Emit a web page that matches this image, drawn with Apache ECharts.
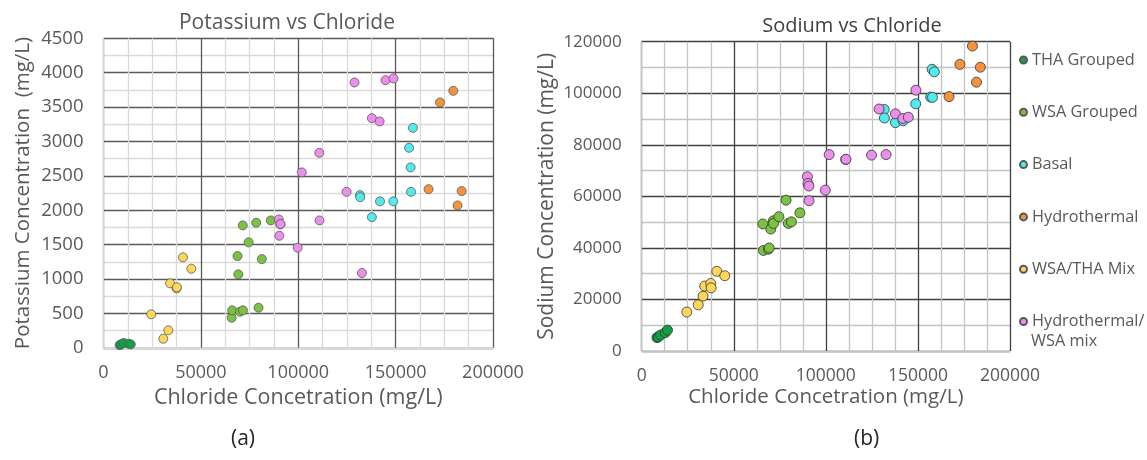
<!DOCTYPE html>
<html><head><meta charset="utf-8">
<script src="https://cdn.jsdelivr.net/npm/echarts@6/dist/echarts.min.js"></script>
<style>html,body{margin:0;padding:0;background:#fff}#c{width:1147px;height:460px}</style>
</head><body><div id="c"></div>
<script>
// ---- data (Cl, K, Na per sample) ----
const groups = ['THA Grouped','WSA Grouped','Basal','Hydrothermal','WSA/THA Mix','Hydrothermal/WSA mix'];
const thaCl = [8300, 9000, 10300, 12700, 14000];
const thaK  = [40, 50, 70, 60, 50];
const thaNa = [5200, 5500, 6200, 7100, 8100];
const wsaCl = [65800, 66100, 68800, 69200, 70100, 71500, 71600, 74500, 78400, 79600, 81300, 85900];
const wsaK  = [437, 545, 1334, 1068, 525, 1780, 545, 1533, 1818, 583, 1290, 1852];
const wsaNa = [49300, 39000, 39500, 40000, 47300, 50500, 49500, 52100, 58500, 49500, 50100, 53600];
const basalCl = [131700, 131800, 137800, 142000, 148800, 156900, 157700, 157900, 158900];
const basalK  = [2220, 2190, 1900, 2129, 2129, 2908, 2623, 2268, 3198];
const basalNa = [93700, 90400, 88600, 89300, 95900, 98500, 109300, 98400, 108300];
const hydroCl = [166900, 172800, 179600, 181800, 183900];
const hydroK  = [2307, 3567, 3736, 2070, 2278];
const hydroNa = [98700, 111200, 118300, 104300, 110100];
const mixCl = [24500, 30700, 33300, 34200, 37500, 37700, 40800, 45100];
const mixK  = [487, 132, 254, 937, 864, 880, 1315, 1150];
const mixNa = [15100, 17900, 21300, 25200, 26200, 24500, 30900, 29200];
const hwCl = [90000, 90300, 90800, 90900, 99700, 101800, 110800, 110900, 124800, 128900, 132700, 137800, 141800, 144800, 148900];
const hwK  = [1867, 1629, 1794, 1800, 1455, 2550, 2835, 1852, 2268, 3858, 1087, 3339, 3291, 3891, 3916];
const hwNa = [67600, 65000, 64000, 58300, 62400, 76200, 74300, 74400, 76000, 93900, 76200, 92000, 90200, 90700, 101200];
const kTicks = {min:0, max:4500, interval:500};
const naTicks = {min:0, max:120000, interval:20000};
const clTicks = {min:0, max:200000, interval:50000};

const sets = [
  [thaCl, thaK, thaNa, '#12a045'],
  [wsaCl, wsaK, wsaNa, '#7cc242'],
  [basalCl, basalK, basalNa, '#52eaea'],
  [hydroCl, hydroK, hydroNa, '#f5923e'],
  [mixCl, mixK, mixNa, '#fdd65a'],
  [hwCl, hwK, hwNa, '#ec8fec']
];
const FONT = '"Open Sans"';
const series = [];
sets.forEach((s, i) => {
  const [cl, k, na, col] = s;
  series.push({name: groups[i], type:'scatter', xAxisIndex:0, yAxisIndex:0, symbolSize:9,
    itemStyle:{color:col, borderColor:'#595959', borderWidth:0.8, opacity:1},
    data: cl.map((v, j) => [v, k[j]])});
  series.push({name: groups[i], type:'scatter', xAxisIndex:1, yAxisIndex:1, symbolSize:10,
    itemStyle:{color:col, borderColor:'#333', borderWidth:0.8, opacity:1},
    data: cl.map((v, j) => [v, na[j]])});
});

function xAx(idx, majorCol, minorCol, margin, nameGap, fs, nfs) {
  return {type:'value', gridIndex:idx, min:clTicks.min, max:clTicks.max, interval:clTicks.interval,
    name:'Chloride Concetration (mg/L)', nameLocation:'middle', nameGap:nameGap, nameMoveOverlap:false,
    nameTextStyle:{fontFamily:FONT, fontSize:nfs, color:'#595959'},
    axisLine:{show:true, lineStyle:{color:minorCol, width:1}}, axisTick:{show:false},
    axisLabel:{fontFamily:FONT, fontSize:fs, color:'#595959', margin:margin, formatter: v => String(v)},
    splitLine:{show:true, lineStyle:{color:majorCol, width:1.3}},
    minorTick:{show:false, splitNumber:4},
    minorSplitLine:{show:true, lineStyle:{color:minorCol, width:1.3}}};
}
function yAx(idx, t, name, majorCol, minorCol, nameGap, fs, nfs) {
  return {type:'value', gridIndex:idx, min:t.min, max:t.max, interval:t.interval,
    name:name, nameLocation:'middle', nameGap:nameGap, nameMoveOverlap:false,
    nameTextStyle:{fontFamily:FONT, fontSize:nfs, color:'#595959'},
    axisLine:{show:true, lineStyle:{color:minorCol, width:1}}, axisTick:{show:false},
    axisLabel:{fontFamily:FONT, fontSize:fs, color:'#595959', margin:20, formatter: v => String(v)},
    splitLine:{show:true, lineStyle:{color:majorCol, width:1.3}},
    minorTick:{show:false, splitNumber:2},
    minorSplitLine:{show:true, lineStyle:{color:minorCol, width:1.3}}};
}

const chart = echarts.init(document.getElementById('c'), null, {renderer:'canvas'});
chart.setOption({
  animation:false,
  backgroundColor:'#fff',
  title:[
    {text:'Potassium vs Chloride', left:282, top:8, textAlign:'center',
     textStyle:{fontFamily:FONT, fontSize:21, fontWeight:'normal', color:'#595959'}},
    {text:'Sodium vs Chloride', left:847, top:11, textAlign:'center',
     textStyle:{fontFamily:FONT, fontSize:20, fontWeight:'normal', color:'#404040'}}
  ],
  grid:[
    {left:103.5, top:38.3, width:389.5, height:309.5},
    {left:641.7, top:41.7, width:368.3, height:309.3}
  ],
  xAxis:[xAx(0,'#595959','#d9d9d9',16,39,18,21.5), xAx(1,'#404040','#c4c4c4',16,36,17.5,20.5)],
  yAxis:[yAx(0,kTicks,'Potassium Concentration  (mg/L)','#595959','#d9d9d9',70,18.5,20.5),
         yAx(1,naTicks,'Sodium Concentration (mg/L)','#404040','#c4c4c4',84,17,21)],
  legend:{orient:'vertical', left:1014, top:44, itemWidth:7, itemHeight:7, itemGap:30.3, icon:'circle',
    data:groups, selectedMode:false,
    formatter: n => n === 'Hydrothermal/WSA mix' ? 'Hydrothermal/' : n,
    textStyle:{fontFamily:FONT, fontSize:16.3, color:'#595959', lineHeight:22}},
  graphic:[
    {type:'text', left:1031, top:333, style:{text:'WSA mix', font:'16.3px "Open Sans"', fill:'#595959'}},
    {type:'text', left:231, top:429, style:{text:'(a)', font:'21px "Open Sans"', fill:'#262626'}},
    {type:'text', left:854, top:429, style:{text:'(b)', font:'21px "Open Sans"', fill:'#262626'}}
  ],
  series: series
});
</script></body></html>
